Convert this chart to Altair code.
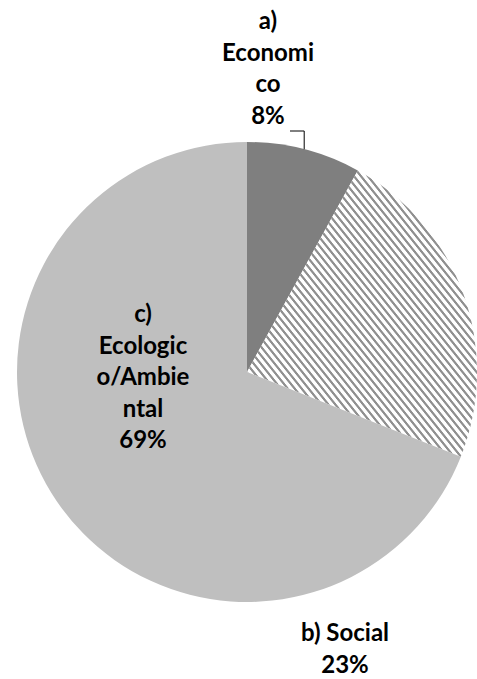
import math
import altair as alt
import pandas as pd

# --- data -------------------------------------------------------------
categories = ["a) Economico", "b) Social", "c) Ecologico/Ambiental"]
shares = [8, 23, 69]
# wrapped name lines of each data label (the share line is appended below)
label_name_lines = [["a)", "Economi", "co"], ["b) Social"], ["c)", "Ecologic", "o/Ambie", "ntal"]]

# --- layout -----------------------------------------------------------
W, H = 477, 679
CX, CY, R = 247, 372, 230
label_pos = [(268, 22), (345, 634), (143, 315)]  # centre of each label's first line
FONT = "Lato"

# diagonal hatching for the "Social" slice, built as a striped gradient
n_stripes = 66
stops = []
for k in range(n_stripes):
    p0 = k / n_stripes
    p = 1 / n_stripes
    stops += [
        {"offset": p0, "color": "#ffffff"},
        {"offset": p0 + 0.42 * p, "color": "#ffffff"},
        {"offset": p0 + 0.55 * p, "color": "#909090"},
        {"offset": p0 + 0.83 * p, "color": "#909090"},
        {"offset": p0 + 0.96 * p, "color": "#ffffff"},
    ]
stops.append({"offset": 1, "color": "#ffffff"})
hatch = {"gradient": "linear", "x1": 0, "y1": 1, "x2": 1, "y2": 0, "stops": stops}

df = pd.DataFrame({
    "cat": categories,
    "share": shares,
    "idx": list(range(len(categories))),
    "label": [l + [f"{s}%"] for l, s in zip(label_name_lines, shares)],
    "lx": [p[0] for p in label_pos],
    "ly": [p[1] for p in label_pos],
})

base = alt.Chart(df)

pie = base.mark_arc(outerRadius=R, stroke=None).encode(
    theta=alt.Theta("share:Q", stack=True),
    order=alt.Order("idx:Q"),
    x=alt.value(CX),
    y=alt.value(CY),
    fill=alt.FillValue(
        value="#bfbfbf",
        condition=[
            {"test": f"datum.cat === '{categories[0]}'", "value": "#7f7f7f"},
            {"test": f"datum.cat === '{categories[1]}'", "value": hatch},
        ],
    ),
)

labels = base.mark_text(
    font=FONT, fontSize=24, fontWeight="bold", color="#000000",
    align="center", baseline="middle", lineHeight=31.5,
).encode(
    x=alt.X("lx:Q", scale=None),
    y=alt.Y("ly:Q", scale=None),
    text="label",
)

# leader line from the "Economico" label to the middle of its slice rim
mid = 2 * math.pi * (shares[0] / 2) / sum(shares)
ex, ey = CX + R * math.sin(mid), CY - R * math.cos(mid)
leader_df = pd.DataFrame({
    "px": [290, ex, ex],
    "py": [131, 131, ey],
    "o": [0, 1, 2],
})
leader = alt.Chart(leader_df).mark_line(color="#000000", strokeWidth=1).encode(
    x=alt.X("px:Q", scale=None),
    y=alt.Y("py:Q", scale=None),
    order="o:Q",
)

chart = alt.layer(pie, labels, leader).properties(
    width=W, height=H, autosize="none", padding=0,
).configure_view(stroke=None)

chart.save("out.html", embed_options={"renderer": "svg", "actions": False})
